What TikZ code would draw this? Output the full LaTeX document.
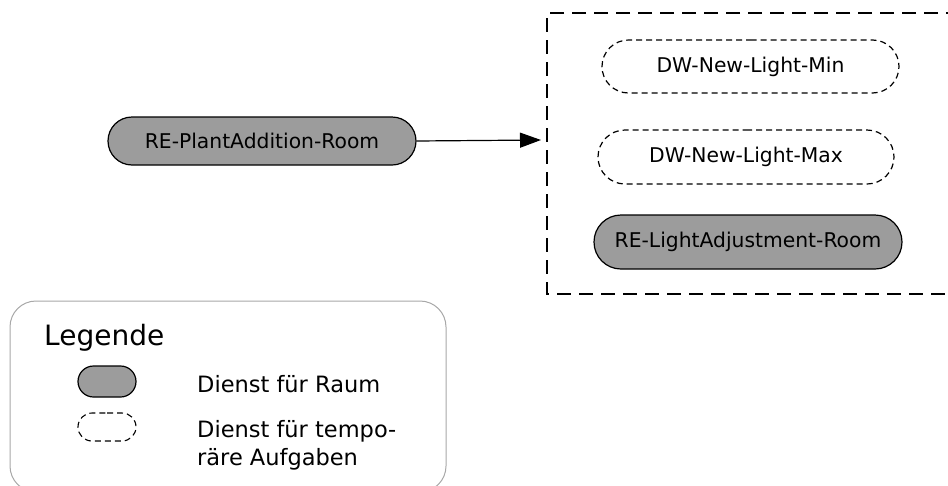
\documentclass[tikz,border=0pt]{standalone}
\usepackage{fontspec}
\setmainfont{DejaVu Sans}
\usetikzlibrary{shapes.misc,arrows.meta}
\definecolor{nodegray}{HTML}{9C9C9C}
\definecolor{legendline}{HTML}{A8A8A8}
\tikzset{
  pill/.style={shape=rounded rectangle, draw, line width=1.2pt, inner sep=0pt,
    font=\fontsize{20.3}{24}\selectfont},
  roompill/.style={pill, fill=nodegray},
  temppill/.style={pill, dash pattern=on 6pt off 4pt},
  legtext/.style={anchor=base west, inner sep=0pt, font=\fontsize{22.5}{26}\selectfont},
}
\begin{document}
\begin{tikzpicture}[x=1pt,y=-1pt]
\useasboundingbox (0,0) rectangle (948,485);
\clip (0,0) rectangle (948,485);
% group box
\draw[line width=1.4pt, dash pattern=on 14pt off 8pt] (960,13) -- (547,13) -- (547,294) -- (960,294);
\node[roompill, minimum width=308pt, minimum height=48pt] (pa) at (262,141) {RE-PlantAddition-Room};
\node[temppill, minimum width=297pt, minimum height=53pt] (min) at (750.5,66.5) {DW-New-Light-Min};
\node[temppill, minimum width=296pt, minimum height=54pt] (max) at (746,157) {DW-New-Light-Max};
\node[roompill, minimum width=308pt, minimum height=54pt] (la) at (748,242) {RE-LightAdjustment-Room};
\coordinate (boxin) at (541,140);
\draw[line width=1.2pt, -{Stealth[length=21pt,width=15pt,inset=0pt]}] (pa.east) -- (boxin);
% legend
\draw[legendline, line width=1pt, rounded corners=26pt] (10,301) rectangle (446,492);
\node[anchor=base west, inner sep=0pt, font=\fontsize{28}{32}\selectfont] (lt) at (44,345) {Legende};
\node[shape=rounded rectangle, draw, line width=1.2pt, fill=nodegray, minimum width=58pt, minimum height=31pt, inner sep=0pt] (l1) at (107,381.5) {};
\node[shape=rounded rectangle, draw, line width=1.1pt, dash pattern=on 6pt off 4pt, minimum width=58pt, minimum height=28pt, inner sep=0pt] (l2) at (107,427) {};
\node[legtext] (t1) at (197,392) {Dienst für Raum};
\node[legtext] (t2) at (197,437.5) {Dienst für tempo-};
\node[legtext] (t3) at (197,465) {räre Aufgaben};
\end{tikzpicture}
\end{document}
